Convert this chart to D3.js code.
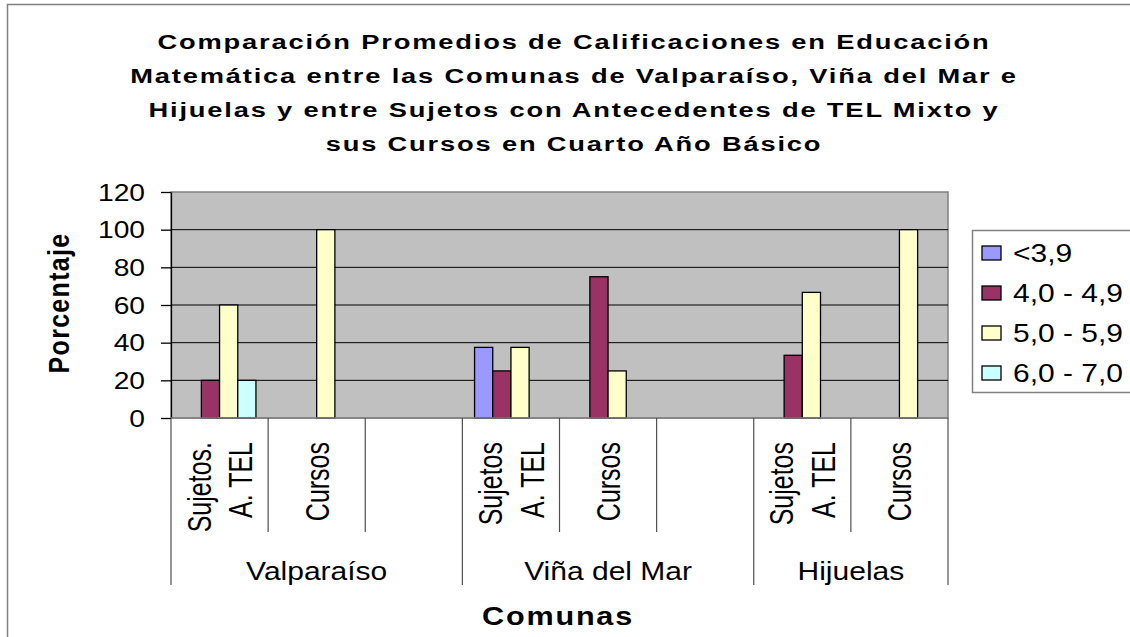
<!DOCTYPE html>
<html>
<head>
<meta charset="utf-8">
<script src="https://cdn.jsdelivr.net/npm/d3@7"></script>
<style>
  body { margin: 0; background: #fff; }
  text { font-family: Arial, "Liberation Sans", sans-serif; fill: #000; }
</style>
</head>
<body>
<div class="chart"></div>
<script>
// data
var titleLines = [
    "Comparación Promedios de Calificaciones en Educación",
    "Matemática entre las Comunas de Valparaíso, Viña del Mar e",
    "Hijuelas y entre Sujetos con Antecedentes de TEL Mixto y",
    "sus Cursos en Cuarto Año Básico"
];
var series = ["<3,9", "4,0 - 4,9", "5,0 - 5,9", "6,0 - 7,0"];
var colors = ["#9999FF", "#993366", "#FFFFCC", "#CCFFFF"];
var catLabels = [["Sujetos.", "A. TEL"], ["Cursos"], [], ["Sujetos", "A. TEL"], ["Cursos"], [], ["Sujetos", "A. TEL"], ["Cursos"]];
var catGroup = [0, 0, 0, 1, 1, 1, 2, 2];
var comunas = ["Valparaíso", "Viña del Mar", "Hijuelas"];
var vLow = [null, null, null, 37.5, null, null, null, null];
var vMid = [20, null, null, 25, 75, null, 33.3, null];
var vHigh = [60, 100, null, 37.5, 25, null, 66.7, 100];
var vTop = [20, null, null, null, null, null, null, null];
var yTicks = [0, 20, 40, 60, 80, 100, 120];

var seriesValues = [vLow, vMid, vHigh, vTop];

// the picture is stretched sideways, so text is too
var SX = 1.2;

var W = 1130, H = 637;
var plot = { left: 171, right: 948, top: 192, bottom: 418 };

var svg = d3.select(".chart")
    .append("svg")
    .attr("width", W)
    .attr("height", H);

// outer chart border
svg.append("rect")
    .attr("x", 7.5).attr("y", 4.5)
    .attr("width", W + 20).attr("height", H + 20)
    .attr("fill", "#fff")
    .attr("stroke", "#808080")
    .attr("stroke-width", 1.5);

// title
svg.append("g").selectAll("text")
    .data(titleLines)
    .enter().append("text")
    .attr("transform", function (d, i) { return "translate(574," + (49 + i * 34) + ") scale(1.3,1)"; })
    .attr("text-anchor", "middle")
    .style("font-size", "21px")
    .style("font-weight", "bold")
    .style("letter-spacing", "1.4px")
    .text(function (d) { return d; });

var x = d3.scaleBand()
    .domain(d3.range(catLabels.length))
    .range([plot.left, plot.right])
    .padding(0);

var xs = d3.scaleBand()
    .domain(series)
    .range([0, x.bandwidth()])
    .paddingInner(0)
    .paddingOuter(0.67);

var y = d3.scaleLinear()
    .domain([0, 120])
    .range([plot.bottom, plot.top]);

// plot area
svg.append("rect")
    .attr("x", plot.left).attr("y", plot.top)
    .attr("width", plot.right - plot.left)
    .attr("height", plot.bottom - plot.top)
    .attr("fill", "#C0C0C0")
    .attr("stroke", "#808080")
    .attr("stroke-width", 1.5);

// gridlines
svg.append("g")
    .selectAll("line")
    .data(yTicks.filter(function (t) { return t > 0 && t < 120; }))
    .enter().append("line")
    .attr("x1", plot.left).attr("x2", plot.right)
    .attr("y1", function (d) { return y(d); })
    .attr("y2", function (d) { return y(d); })
    .attr("stroke", "#000")
    .attr("stroke-width", 1);

// y axis
var yAxis = svg.append("g")
    .attr("transform", "translate(" + plot.left + ",0)")
    .call(d3.axisLeft(y).tickValues(yTicks).tickSize(10).tickSizeOuter(0).tickFormat(d3.format("d")));
yAxis.select(".domain").attr("stroke", "#000").attr("stroke-width", 1.3);
yAxis.selectAll(".tick line").attr("stroke", "#000").attr("stroke-width", 1.3);
yAxis.selectAll(".tick text")
    .attr("x", null).attr("dy", null)
    .attr("transform", "translate(-26,0) scale(" + SX + ",1)")
    .attr("dominant-baseline", "central")
    .style("font-size", "23.5px")
    .style("font-family", "Arial, 'Liberation Sans', sans-serif");

svg.append("text")
    .attr("transform", "translate(59,303) scale(" + SX + ",1) rotate(-90)")
    .attr("text-anchor", "middle")
    .attr("dominant-baseline", "central")
    .style("font-size", "25px")
    .style("font-weight", "bold")
    .style("letter-spacing", "1.3px")
    .text("Porcentaje");

// bars
var bars = [];
seriesValues.forEach(function (vals, si) {
    vals.forEach(function (v, ci) {
        if (v !== null) bars.push({ s: series[si], c: ci, v: v, color: colors[si] });
    });
});
svg.append("g")
    .selectAll("rect")
    .data(bars)
    .enter().append("rect")
    .attr("x", function (d) { return x(d.c) + xs(d.s); })
    .attr("y", function (d) { return y(d.v); })
    .attr("width", xs.bandwidth())
    .attr("height", function (d) { return y(0) - y(d.v); })
    .attr("fill", function (d) { return d.color; })
    .attr("stroke", "#000")
    .attr("stroke-width", 1.3);

// x axis line
svg.append("line")
    .attr("x1", plot.left).attr("x2", plot.right)
    .attr("y1", plot.bottom).attr("y2", plot.bottom)
    .attr("stroke", "#808080").attr("stroke-width", 1.5);

// category ticks
var catEdges = d3.range(catLabels.length + 1).map(function (i) {
    return i < catLabels.length ? x(i) : plot.right;
});
var groupStarts = catEdges.filter(function (e, i) {
    return i === 0 || i === catLabels.length || catGroup[i] !== catGroup[i - 1];
});
svg.append("g")
    .selectAll("line")
    .data(catEdges)
    .enter().append("line")
    .attr("x1", function (d) { return d; })
    .attr("x2", function (d) { return d; })
    .attr("y1", plot.bottom)
    .attr("y2", function (d) { return groupStarts.indexOf(d) >= 0 ? 585 : 532; })
    .attr("stroke", "#505050")
    .attr("stroke-width", 1.2);

// category labels (rotated)
var RSX = 1.35;
var catText = [];
catLabels.forEach(function (lines, ci) {
    lines.forEach(function (t, li) {
        catText.push({ c: ci, t: t, off: (li - (lines.length - 1) / 2) * 31 });
    });
});
svg.append("g")
    .selectAll("text")
    .data(catText)
    .enter().append("text")
    .attr("transform", function (d) {
        return "translate(" + (x(d.c) + x.bandwidth() / 2) + ",442) scale(" + RSX + ",1) rotate(-90)";
    })
    .attr("y", function (d) { return d.off; })
    .attr("text-anchor", "end")
    .attr("dominant-baseline", "central")
    .style("font-size", "25px")
    .text(function (d) { return d.t; });

// comuna labels
svg.append("g")
    .selectAll("text")
    .data(comunas)
    .enter().append("text")
    .attr("transform", function (d, gi) {
        var idx = d3.range(catGroup.length).filter(function (i) { return catGroup[i] === gi; });
        var x0 = x(idx[0]), x1 = x(idx[idx.length - 1]) + x.bandwidth();
        return "translate(" + ((x0 + x1) / 2) + ",580) scale(" + SX + ",1)";
    })
    .attr("text-anchor", "middle")
    .style("font-size", "25px")
    .text(function (d) { return d; });

svg.append("text")
    .attr("transform", "translate(558,625) scale(" + SX + ",1)")
    .attr("text-anchor", "middle")
    .style("font-size", "25.5px")
    .style("font-weight", "bold")
    .style("letter-spacing", "1.5px")
    .text("Comunas");

// legend
var legend = svg.append("g");
legend.append("rect")
    .attr("x", 972.5).attr("y", 230.5)
    .attr("width", 200).attr("height", 162)
    .attr("fill", "#fff")
    .attr("stroke", "#808080")
    .attr("stroke-width", 1.5);
var item = legend.selectAll("g.item")
    .data(series)
    .enter().append("g")
    .attr("class", "item")
    .attr("transform", function (d, i) { return "translate(982," + (253 + i * 40) + ")"; });
item.append("rect")
    .attr("x", 0).attr("y", -7)
    .attr("width", 19).attr("height", 14)
    .attr("fill", function (d, i) { return colors[i]; })
    .attr("stroke", "#000")
    .attr("stroke-width", 1.3);
item.append("text")
    .attr("transform", "translate(31,0) scale(" + SX + ",1)")
    .attr("dominant-baseline", "central")
    .style("font-size", "25px")
    .text(function (d) { return d; });
</script>
</body>
</html>
